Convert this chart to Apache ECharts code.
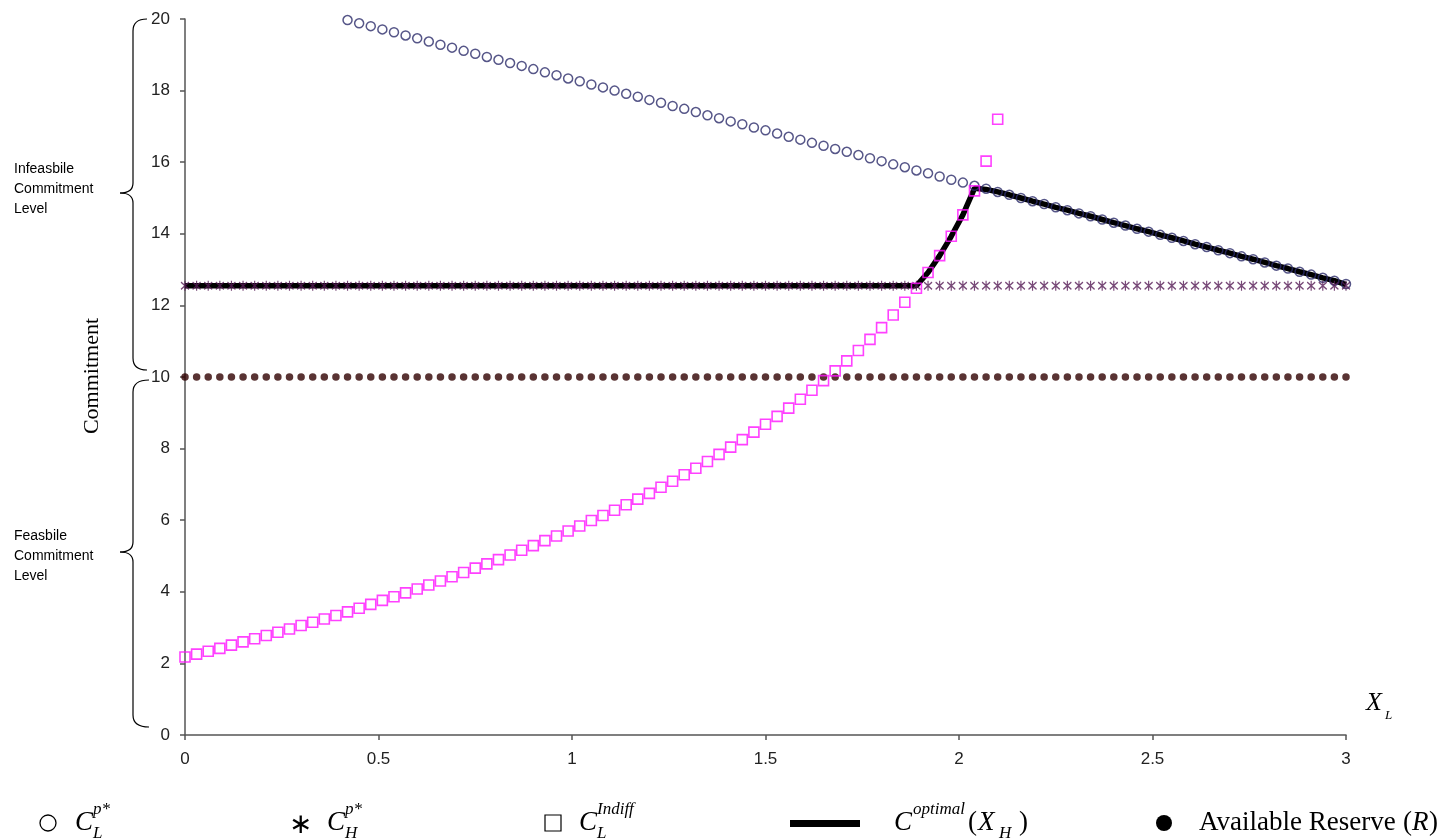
<!DOCTYPE html>
<html>
<head>
<meta charset="utf-8">
<script src="https://cdn.jsdelivr.net/npm/echarts@6/dist/echarts.min.js"></script>
<style>html,body{margin:0;padding:0;background:#fff}#chart{width:1440px;height:840px}</style>
</head>
<body>
<div id="chart"></div>
<script>
// X positions (X_L)
const xValues = [
0,0.03,0.06,0.09,0.12,0.15,0.18,0.21,0.24,0.27,
0.3,0.33,0.36,0.39,0.42,0.45,0.48,0.51,0.54,0.57,
0.6,0.63,0.66,0.69,0.72,0.75,0.78,0.81,0.84,0.87,
0.9,0.93,0.96,0.99,1.02,1.05,1.08,1.11,1.14,1.17,
1.2,1.23,1.26,1.29,1.32,1.35,1.38,1.41,1.44,1.47,
1.5,1.53,1.56,1.59,1.62,1.65,1.68,1.71,1.74,1.77,
1.8,1.83,1.86,1.89,1.92,1.95,1.98,2.01,2.04,2.07,
2.1,2.13,2.16,2.19,2.22,2.25,2.28,2.31,2.34,2.37,
2.4,2.43,2.46,2.49,2.52,2.55,2.58,2.61,2.64,2.67,
2.7,2.73,2.76,2.79,2.82,2.85,2.88,2.91,2.94,2.97,
3];

// C_L^{p*}  (circles)
const cLpStar = [
null,null,null,null,null,null,null,null,null,null,
null,null,null,null,19.97,19.88,19.80,19.71,19.63,19.54,
19.46,19.37,19.28,19.20,19.11,19.03,18.94,18.86,18.77,18.69,
18.60,18.51,18.43,18.34,18.26,18.17,18.09,18.00,17.91,17.83,
17.74,17.66,17.57,17.49,17.40,17.31,17.23,17.14,17.06,16.97,
16.89,16.80,16.71,16.63,16.54,16.46,16.37,16.29,16.20,16.11,
16.03,15.94,15.86,15.77,15.69,15.60,15.51,15.43,15.34,15.26,
15.17,15.09,15.00,14.91,14.83,14.74,14.66,14.57,14.49,14.40,
14.31,14.23,14.14,14.06,13.97,13.89,13.80,13.71,13.63,13.54,
13.46,13.37,13.29,13.20,13.11,13.03,12.94,12.86,12.77,12.69,
12.60];

// C_H^{p*}  (asterisks)
const cHpStar = [
12.55,12.55,12.55,12.55,12.55,12.55,12.55,12.55,12.55,12.55,
12.55,12.55,12.55,12.55,12.55,12.55,12.55,12.55,12.55,12.55,
12.55,12.55,12.55,12.55,12.55,12.55,12.55,12.55,12.55,12.55,
12.55,12.55,12.55,12.55,12.55,12.55,12.55,12.55,12.55,12.55,
12.55,12.55,12.55,12.55,12.55,12.55,12.55,12.55,12.55,12.55,
12.55,12.55,12.55,12.55,12.55,12.55,12.55,12.55,12.55,12.55,
12.55,12.55,12.55,12.55,12.55,12.55,12.55,12.55,12.55,12.55,
12.55,12.55,12.55,12.55,12.55,12.55,12.55,12.55,12.55,12.55,
12.55,12.55,12.55,12.55,12.55,12.55,12.55,12.55,12.55,12.55,
12.55,12.55,12.55,12.55,12.55,12.55,12.55,12.55,12.55,12.55,
12.55];

// C_L^{Indiff}  (squares)
const cLIndiff = [
2.18,2.26,2.34,2.42,2.51,2.60,2.69,2.78,2.87,2.96,
3.06,3.15,3.24,3.34,3.44,3.54,3.65,3.76,3.86,3.97,
4.08,4.19,4.30,4.42,4.54,4.66,4.78,4.90,5.03,5.16,
5.29,5.43,5.56,5.70,5.84,5.99,6.13,6.28,6.43,6.59,
6.75,6.92,7.09,7.27,7.45,7.64,7.84,8.04,8.25,8.46,
8.68,8.90,9.13,9.38,9.63,9.90,10.17,10.45,10.74,11.05,
11.38,11.73,12.09,12.48,12.92,13.39,13.93,14.53,15.20,16.03,
17.20];

// C^{optimal}(X_H)  (thick line)
const cOptimal = [
12.55,12.55,12.55,12.55,12.55,12.55,12.55,12.55,12.55,12.55,
12.55,12.55,12.55,12.55,12.55,12.55,12.55,12.55,12.55,12.55,
12.55,12.55,12.55,12.55,12.55,12.55,12.55,12.55,12.55,12.55,
12.55,12.55,12.55,12.55,12.55,12.55,12.55,12.55,12.55,12.55,
12.55,12.55,12.55,12.55,12.55,12.55,12.55,12.55,12.55,12.55,
12.55,12.55,12.55,12.55,12.55,12.55,12.55,12.55,12.55,12.55,
12.55,12.55,12.55,12.55,12.92,13.39,13.93,14.53,15.27,15.24,
15.17,15.09,15.00,14.91,14.83,14.74,14.66,14.57,14.49,14.40,
14.31,14.23,14.14,14.06,13.97,13.89,13.80,13.71,13.63,13.54,
13.46,13.37,13.29,13.20,13.11,13.03,12.94,12.86,12.77,12.69,
12.58];

// Available Reserve (R)  (filled dots)
const reserveR = [
10,10,10,10,10,10,10,10,10,10,
10,10,10,10,10,10,10,10,10,10,
10,10,10,10,10,10,10,10,10,10,
10,10,10,10,10,10,10,10,10,10,
10,10,10,10,10,10,10,10,10,10,
10,10,10,10,10,10,10,10,10,10,
10,10,10,10,10,10,10,10,10,10,
10,10,10,10,10,10,10,10,10,10,
10,10,10,10,10,10,10,10,10,10,
10,10,10,10,10,10,10,10,10,10,
10];

const xTickValues = [0, 0.5, 1, 1.5, 2, 2.5, 3];
const yTickValues = [0, 2, 4, 6, 8, 10, 12, 14, 16, 18, 20];

function pairs(ys) {
  const out = [];
  for (let i = 0; i < ys.length; i++) {
    if (ys[i] !== null && ys[i] !== undefined) out.push([xValues[i], ys[i]]);
  }
  return out;
}

const serif = "'Liberation Serif','Times New Roman',serif";
const sans = "'Liberation Sans',Arial,sans-serif";

function t(x, y, s, size, opts) {
  opts = opts || {};
  return {
    type: 'text', x: x, y: y, z: 100,
    rotation: opts.rotation || 0,
    style: {
      text: s, fontSize: size, fontFamily: opts.family || serif,
      fontStyle: opts.italic ? 'italic' : 'normal',
      fill: '#000', textAlign: opts.align || 'left', textVerticalAlign: 'middle',
      lineHeight: opts.lineHeight
    }
  };
}

// curly brace built from curves and lines
function brace(xv, xEnd, xTip, y1, ym, y2) {
  const st = { stroke: '#000', fill: null, lineWidth: 1.2 };
  return [
    { type: 'bezierCurve', shape: { x1: xEnd, y1: y1, cpx1: xv, cpy1: y1, x2: xv, y2: y1 + 12 }, style: st },
    { type: 'line', shape: { x1: xv, y1: y1 + 12, x2: xv, y2: ym - 10 }, style: st },
    { type: 'bezierCurve', shape: { x1: xv, y1: ym - 10, cpx1: xv, cpy1: ym, x2: xTip, y2: ym }, style: st },
    { type: 'bezierCurve', shape: { x1: xTip, y1: ym, cpx1: xv, cpy1: ym, x2: xv, y2: ym + 10 }, style: st },
    { type: 'line', shape: { x1: xv, y1: ym + 10, x2: xv, y2: y2 - 12 }, style: st },
    { type: 'bezierCurve', shape: { x1: xv, y1: y2 - 12, cpx1: xv, cpy1: y2, x2: xEnd, y2: y2 }, style: st }
  ];
}

const LY = 823;
const BIG = 27, SMALL = 17;
const graphics = [].concat(
  brace(133, 147, 120, 19, 193, 370),
  brace(133, 149, 120, 380, 552, 727),
  [
  t(14, 189, 'Infeasbile\nCommitment\nLevel', 14, { family: sans, lineHeight: 20 }),
  t(14, 556, 'Feasbile\nCommitment\nLevel', 14, { family: sans, lineHeight: 20 }),
  t(92, 376, 'Commitment', 22, { rotation: Math.PI / 2, align: 'center' }),
  // x axis name X_L
  t(1366, 703, 'X', 26, { italic: true }),
  t(1385, 716, 'L', 13, { italic: true }),
  // legend item 1
  { type: 'circle', shape: { cx: 48, cy: LY, r: 8 }, style: { stroke: '#000', fill: null, lineWidth: 1.3 } },
  t(75, LY, 'C', BIG, { italic: true }),
  t(93, LY - 13, 'p*', SMALL, { italic: true }),
  t(93, LY + 11, 'L', SMALL, { italic: true }),
  // legend item 2
  t(300, LY + 3, '\u2217', 28, { align: 'center' }),
  t(327, LY, 'C', BIG, { italic: true }),
  t(345, LY - 13, 'p*', SMALL, { italic: true }),
  t(345, LY + 11, 'H', SMALL, { italic: true }),
  // legend item 3
  { type: 'rect', shape: { x: 545, y: LY - 8, width: 16, height: 16 }, style: { stroke: '#000', fill: null, lineWidth: 1.2 } },
  t(579, LY, 'C', BIG, { italic: true }),
  t(597, LY - 13, 'Indiff', SMALL, { italic: true }),
  t(597, LY + 11, 'L', SMALL, { italic: true }),
  // legend item 4
  { type: 'rect', shape: { x: 790, y: LY - 3, width: 70, height: 7 }, style: { fill: '#000' } },
  t(894, LY, 'C', BIG, { italic: true }),
  t(913, LY - 13, 'optimal', SMALL, { italic: true }),
  t(968, LY, '(', BIG, {}),
  t(978, LY, 'X', BIG, { italic: true }),
  t(999, LY + 11, 'H', SMALL, { italic: true }),
  t(1019, LY, ')', BIG, {}),
  // legend item 5
  { type: 'circle', shape: { cx: 1164, cy: LY, r: 8 }, style: { fill: '#000' } },
  t(1199, LY, 'Available Reserve', BIG, {}),
  t(1403, LY, '(', BIG, {}),
  t(1412, LY, 'R', BIG, { italic: true }),
  t(1429, LY, ')', BIG, {})
  ]
);

const chart = echarts.init(document.getElementById('chart'), null, { renderer: 'canvas' });
chart.setOption({
  animation: false,
  backgroundColor: '#fff',
  grid: { left: 185, right: 94, top: 19, bottom: 105 },
  xAxis: {
    type: 'value', min: 0, max: 3, interval: 0.5,
    axisLine: { show: true, lineStyle: { color: '#555', width: 1.5 } },
    axisTick: { show: true, length: 5, lineStyle: { color: '#555', width: 1.5 } },
    axisLabel: { margin: 16, fontSize: 17, fontFamily: sans, color: '#222',
      formatter: function (v) { return xTickValues.indexOf(v) >= 0 ? String(v) : ''; } },
    splitLine: { show: false }
  },
  yAxis: {
    type: 'value', min: 0, max: 20, interval: 2,
    axisLine: { show: true, lineStyle: { color: '#555', width: 1.5 } },
    axisTick: { show: true, length: 5, lineStyle: { color: '#555', width: 1.5 } },
    axisLabel: { margin: 15, fontSize: 17, fontFamily: sans, color: '#222',
      formatter: function (v) { return yTickValues.indexOf(v) >= 0 ? String(v) : ''; } },
    splitLine: { show: false }
  },
  series: [
    { name: 'C optimal', type: 'line', data: pairs(cOptimal), showSymbol: false, symbol: 'none',
      lineStyle: { color: '#000', width: 5.5 }, z: 2 },
    { name: 'CLp', type: 'scatter', data: pairs(cLpStar), symbol: 'circle', symbolSize: 9,
      itemStyle: { color: 'transparent', borderColor: '#2c2c6a', borderWidth: 1.5 }, z: 3 },
    { name: 'CHp', type: 'scatter', data: pairs(cHpStar), symbol: 'path://M-4,-4L4,4M-4,4L4,-4M0,-5.5L0,5.5', symbolSize: [8, 10],
      itemStyle: { color: 'transparent', borderColor: '#551a55', borderWidth: 1.3 }, z: 4 },
    { name: 'CLIndiff', type: 'scatter', data: pairs(cLIndiff), symbol: 'rect', symbolSize: 10,
      itemStyle: { color: 'transparent', borderColor: '#ff11ff', borderWidth: 1.6 }, z: 5 },
    { name: 'R', type: 'scatter', data: pairs(reserveR), symbol: 'circle', symbolSize: 7.5,
      itemStyle: { color: '#300000' }, z: 3 }
  ],
  graphic: graphics
});
</script>
</body>
</html>
